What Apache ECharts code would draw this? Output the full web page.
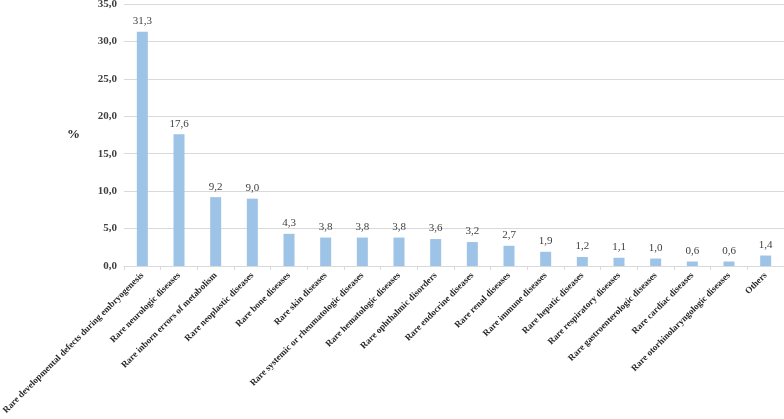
<!DOCTYPE html>
<html>
<head>
<meta charset="utf-8">
<script src="https://cdn.jsdelivr.net/npm/echarts@6/dist/echarts.min.js"></script>
<style>
html, body { margin: 0; padding: 0; background: #fff; }
#chart { width: 784px; height: 419px; }
</style>
</head>
<body>
<div id="chart"></div>
<script>
var categories = [
	'Rare developmental defects during embryogenesis',
	'Rare neurologic diseases',
	'Rare inborn errors of metabolism',
	'Rare neoplastic diseases',
	'Rare bone diseases',
	'Rare skin diseases',
	'Rare systemic or rheumatologic diseases',
	'Rare hematologic diseases',
	'Rare ophthalmic disorders',
	'Rare endocrine diseases',
	'Rare renal diseases',
	'Rare immune diseases',
	'Rare hepatic diseases',
	'Rare respiratory diseases',
	'Rare gastroenterologic diseases',
	'Rare cardiac diseases',
	'Rare otorhinolaryngologic diseases',
	'Others'
];
var percents = [31.3, 17.6, 9.2, 9.0, 4.3, 3.8, 3.8, 3.8, 3.6, 3.2, 2.7, 1.9, 1.2, 1.1, 1.0, 0.6, 0.6, 1.4];

var serif = '"Liberation Serif", "Times New Roman", serif';

function fmt(v) {
	return Number(v).toFixed(1).replace('.', ',');
}

var chart = echarts.init(document.getElementById('chart'));

var option = {
	animation: false,
	grid: {
		left: 124,
		right: 0,
		top: 4,
		bottom: 153,
		containLabel: false,
		outerBoundsMode: 'none'
	},
	xAxis: {
		type: 'category',
		data: categories,
		axisLine: { lineStyle: { color: '#d9d9d9' } },
		axisTick: { show: true, length: 4, lineStyle: { color: '#d9d9d9' } },
		axisLabel: {
			interval: 0,
			rotate: 45,
			margin: 8,
			fontFamily: serif,
			fontWeight: 'bold',
			fontSize: 9.1,
			color: '#262626'
		}
	},
	yAxis: {
		type: 'value',
		min: 0,
		max: 35,
		interval: 5,
		name: '%',
		nameLocation: 'middle',
		nameRotate: 0,
		nameGap: 44,
		nameTextStyle: {
			fontFamily: serif,
			fontWeight: 'bold',
			fontSize: 13,
			color: '#262626',
			padding: [8, 0, 0, 0]
		},
		axisLine: { show: false },
		axisTick: { show: false },
		splitLine: { lineStyle: { color: '#d9d9d9' } },
		axisLabel: {
			margin: 7,
			fontFamily: serif,
			fontWeight: 'bold',
			fontSize: 11,
			color: '#404040',
			formatter: fmt
		}
	},
	series: [
		{
			type: 'bar',
			data: percents,
			barWidth: 11,
			itemStyle: { color: '#9dc3e6' },
			label: {
				show: true,
				position: 'top',
				distance: 5,
				fontFamily: serif,
				fontSize: 11,
				color: '#404040',
				formatter: function (p) { return fmt(p.value); }
			}
		}
	]
};

chart.setOption(option);
</script>
</body>
</html>
